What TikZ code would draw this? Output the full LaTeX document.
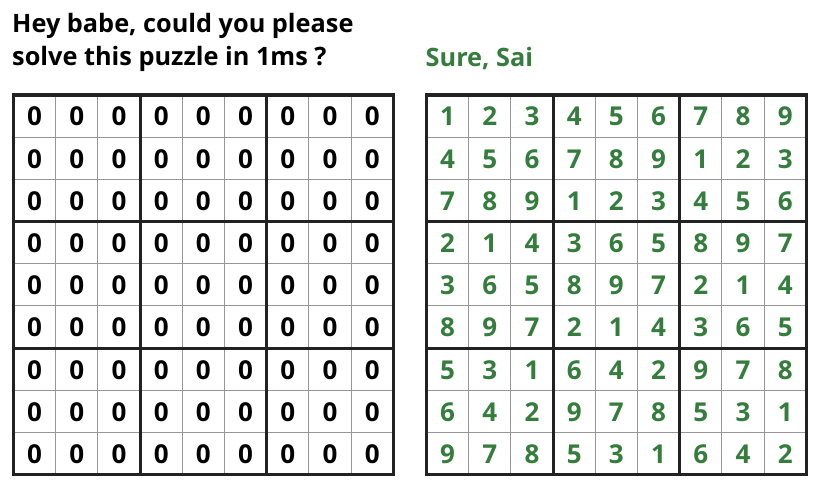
\documentclass[tikz,border=0pt]{standalone}
\usepackage{fontspec}
\setmainfont{Open Sans}
\definecolor{solgreen}{RGB}{52,125,60}
\definecolor{thickgray}{RGB}{34,34,34}
\definecolor{thingray}{RGB}{150,150,150}
\begin{document}
\begin{tikzpicture}[x=1pt,y=-1pt,
  headtext/.style={anchor=base west,inner sep=0pt,font=\fontsize{25.3}{33}\selectfont\bfseries},
  digit/.style={anchor=base,inner sep=0pt,font=\fontsize{26}{26}\selectfont\bfseries},
  thinline/.style={draw=thingray,line width=1pt},
  thickline/.style={draw=thickgray,line width=3.2pt,line cap=rect}]
\useasboundingbox[fill=white] (0,0) rectangle (820,494);
\node[headtext] (q1) at (12,32.5) {Hey babe, could you please};
\node[headtext] (q2) at (12,65.5) {solve this puzzle in 1ms ?};
\node[headtext,text=solgreen] (ans) at (425.5,66.5) {Sure, Sai};
\def\cs{42.2}
% grids: left origin (13.5,95), right origin (426.5,95)
\foreach \gx/\gn in {13.5/L,426.5/R}{
  \foreach \i in {1,2,4,5,7,8}{
    \draw[thinline] (\gx+\i*\cs,95) -- (\gx+\i*\cs,95+9*\cs);
    \draw[thinline] (\gx,95+\i*\cs) -- (\gx+9*\cs,95+\i*\cs);
  }
  \foreach \i in {3,6}{
    \draw[thickline,line cap=butt] (\gx+\i*\cs,95) -- (\gx+\i*\cs,95+9*\cs);
    \draw[thickline,line cap=butt] (\gx,95+\i*\cs) -- (\gx+9*\cs,95+\i*\cs);
  }
  \draw[thickline] (\gx,95) rectangle (\gx+9*\cs,95+9*\cs);
}
% left puzzle: zeros
\foreach \r in {0,...,8}{
  \foreach \c in {0,...,8}{
    \node[digit] (L-\r-\c) at (13.5+\c*\cs+0.5*\cs,95+\r*\cs+0.5*\cs+9.8) {0};
  }
}
% right solution
\foreach \row [count=\r from 0] in {
  {1,2,3,4,5,6,7,8,9},
  {4,5,6,7,8,9,1,2,3},
  {7,8,9,1,2,3,4,5,6},
  {2,1,4,3,6,5,8,9,7},
  {3,6,5,8,9,7,2,1,4},
  {8,9,7,2,1,4,3,6,5},
  {5,3,1,6,4,2,9,7,8},
  {6,4,2,9,7,8,5,3,1},
  {9,7,8,5,3,1,6,4,2}}{
  \foreach \d [count=\c from 0] in \row {
    \node[digit,text=solgreen] (R-\r-\c) at (426.5+\c*\cs+0.5*\cs,95+\r*\cs+0.5*\cs+9.8) {\d};
  }
}
\end{tikzpicture}
\end{document}
